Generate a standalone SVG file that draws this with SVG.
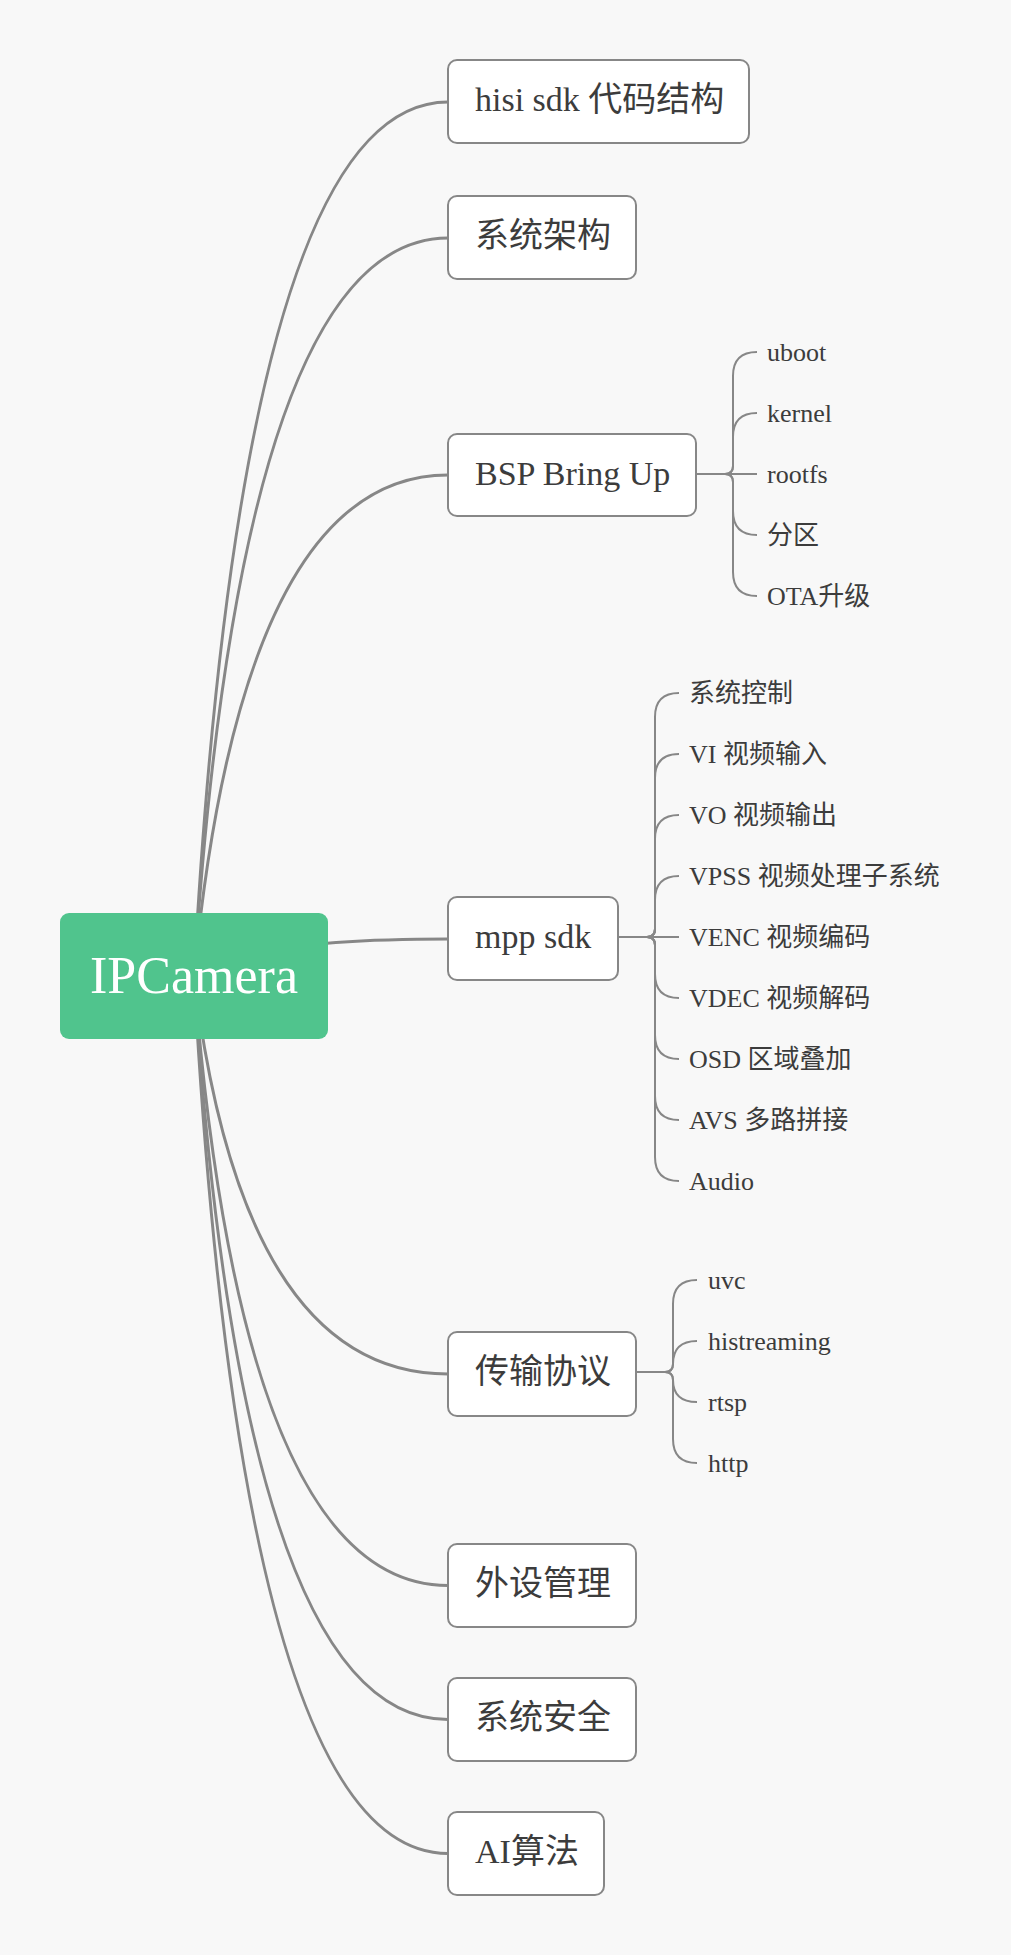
<svg xmlns="http://www.w3.org/2000/svg" width="1011" height="1955" viewBox="0 0 1011 1955">
<style>
.bg{fill:#f8f8f8}
.main{fill:none;stroke:#878787;stroke-width:3;stroke-linecap:round}
.sub{fill:none;stroke:#878787;stroke-width:2}
.box{fill:#ffffff;stroke:#878787;stroke-width:2}
.root{fill:#50c48d}
.t{font-family:"Liberation Serif","Noto Sans CJK SC",serif;fill:#3c3c3c}
.tm{font-size:34px}
.tl{font-size:26px}
.tr{font-family:"Liberation Serif","Noto Sans CJK SC",serif;font-size:52px;fill:#ffffff;text-anchor:middle}
</style>
<rect class="bg" x="0" y="0" width="1011" height="1955"/>
<g id="connectors">
<path class="main" d="M194 976 Q242 102 448 102"/>
<path class="main" d="M194 976 Q242 238 448 238"/>
<path class="main" d="M194 976 Q242 475 448 475"/>
<path class="main" d="M194 976 Q242 939 448 939"/>
<path class="main" d="M194 976 Q242 1374 448 1374"/>
<path class="main" d="M194 976 Q242 1585.5 448 1585.5"/>
<path class="main" d="M194 976 Q242 1719.5 448 1719.5"/>
<path class="main" d="M194 976 Q242 1853.5 448 1853.5"/>
<!-- BSP children -->
<path class="sub" d="M696 474 H725 Q733 474 733 466 V376 Q733 352 757 352"/>
<path class="sub" d="M696 474 H725 Q733 474 733 466 V437 Q733 413 757 413"/>
<path class="sub" d="M696 474 H757"/>
<path class="sub" d="M696 474 H725 Q733 474 733 482 V511 Q733 535 757 535"/>
<path class="sub" d="M696 474 H725 Q733 474 733 482 V572 Q733 596 757 596"/>
<!-- mpp children -->
<path class="sub" d="M618 937 H647 Q655 937 655 929 V717 Q655 693 679 693"/>
<path class="sub" d="M618 937 H647 Q655 937 655 929 V778 Q655 754 679 754"/>
<path class="sub" d="M618 937 H647 Q655 937 655 929 V839 Q655 815 679 815"/>
<path class="sub" d="M618 937 H647 Q655 937 655 929 V900 Q655 876 679 876"/>
<path class="sub" d="M618 937 H679"/>
<path class="sub" d="M618 937 H647 Q655 937 655 945 V974 Q655 998 679 998"/>
<path class="sub" d="M618 937 H647 Q655 937 655 945 V1035 Q655 1059 679 1059"/>
<path class="sub" d="M618 937 H647 Q655 937 655 945 V1096 Q655 1120 679 1120"/>
<path class="sub" d="M618 937 H647 Q655 937 655 945 V1157 Q655 1181 679 1181"/>
<!-- transport children -->
<path class="sub" d="M636 1372 H665 Q673 1372 673 1364 V1304 Q673 1280 697 1280"/>
<path class="sub" d="M636 1372 H665 Q673 1372 673 1364 Q673 1341 697 1341"/>
<path class="sub" d="M636 1372 H665 Q673 1372 673 1380 Q673 1402 697 1402"/>
<path class="sub" d="M636 1372 H665 Q673 1372 673 1380 V1439 Q673 1463 697 1463"/>
</g>
<g id="node-root">
<rect class="root" x="60" y="913" width="268" height="126" rx="9"/>
<text class="tr" x="194" y="993">IPCamera</text>
</g>
<g id="node-hisi">
<rect class="box" x="448" y="60" width="301" height="83" rx="9"/>
<text class="t tm" x="475" y="111">hisi sdk 代码结构</text>
</g>
<g id="node-arch">
<rect class="box" x="448" y="196" width="188" height="83" rx="9"/>
<text class="t tm" x="475" y="247">系统架构</text>
</g>
<g id="node-bsp">
<rect class="box" x="448" y="434" width="248" height="82" rx="9"/>
<text class="t tm" x="475" y="485">BSP Bring Up</text>
</g>
<g id="node-mpp">
<rect class="box" x="448" y="897" width="170" height="83" rx="9"/>
<text class="t tm" x="475" y="948">mpp sdk</text>
</g>
<g id="node-trans">
<rect class="box" x="448" y="1332" width="188" height="84" rx="9"/>
<text class="t tm" x="475" y="1383">传输协议</text>
</g>
<g id="node-periph">
<rect class="box" x="448" y="1544" width="188" height="83" rx="9"/>
<text class="t tm" x="475" y="1595">外设管理</text>
</g>
<g id="node-sec">
<rect class="box" x="448" y="1678" width="188" height="83" rx="9"/>
<text class="t tm" x="475" y="1729">系统安全</text>
</g>
<g id="node-ai">
<rect class="box" x="448" y="1812" width="156" height="83" rx="9"/>
<text class="t tm" x="475" y="1863">AI算法</text>
</g>
<g id="leaves-bsp">
<text class="t tl" x="767" y="361">uboot</text>
<text class="t tl" x="767" y="422">kernel</text>
<text class="t tl" x="767" y="483">rootfs</text>
<text class="t tl" x="767" y="544">分区</text>
<text class="t tl" x="767" y="605">OTA升级</text>
</g>
<g id="leaves-mpp">
<text class="t tl" x="689" y="702">系统控制</text>
<text class="t tl" x="689" y="763">VI 视频输入</text>
<text class="t tl" x="689" y="824">VO 视频输出</text>
<text class="t tl" x="689" y="885">VPSS 视频处理子系统</text>
<text class="t tl" x="689" y="946">VENC 视频编码</text>
<text class="t tl" x="689" y="1007">VDEC 视频解码</text>
<text class="t tl" x="689" y="1068">OSD 区域叠加</text>
<text class="t tl" x="689" y="1129">AVS 多路拼接</text>
<text class="t tl" x="689" y="1190">Audio</text>
</g>
<g id="leaves-trans">
<text class="t tl" x="708" y="1289">uvc</text>
<text class="t tl" x="708" y="1350">histreaming</text>
<text class="t tl" x="708" y="1411">rtsp</text>
<text class="t tl" x="708" y="1472">http</text>
</g>
</svg>
